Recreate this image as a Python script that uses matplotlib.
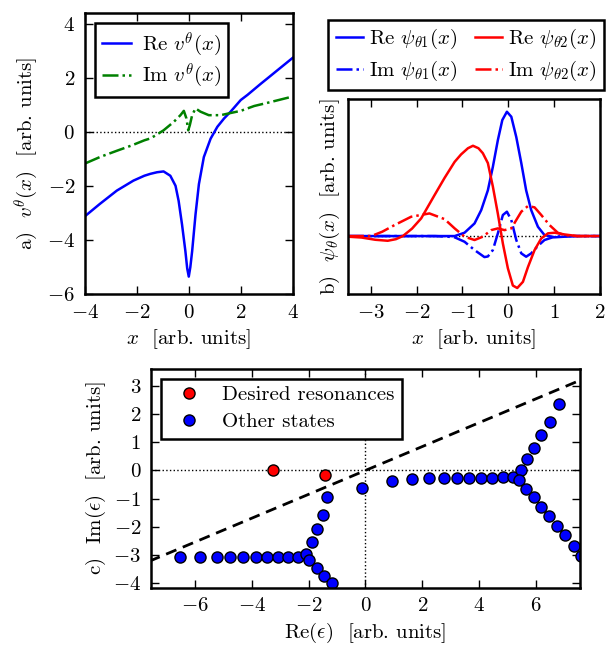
import matplotlib
matplotlib.use('Agg')
import matplotlib.pyplot as plt

plt.rcParams['font.family'] = ['cmr10', 'DejaVu Serif']
plt.rcParams['mathtext.fontset'] = 'cm'
plt.rcParams['axes.formatter.use_mathtext'] = True
plt.rcParams['axes.unicode_minus'] = True
plt.rcParams['font.size'] = 15

# panel a: complex scaled potential
a_re_x = [-4.0, -3.42, -2.77, -2.13, -1.71, -1.48, -1.22, -0.97, -0.71, -0.51, -0.39, -0.26,
          -0.13, -0.06, 0.0, 0.06, 0.13, 0.26, 0.39, 0.58, 0.84, 1.10, 1.36, 1.61, 2.0, 2.26,
          2.77, 3.04, 3.5, 4.0]
a_re_y = [-3.12, -2.66, -2.17, -1.80, -1.62, -1.55, -1.49, -1.46, -1.62, -1.99, -2.55, -3.42,
          -4.41, -5.05, -5.35, -5.0, -4.41, -3.05, -1.93, -0.93, -0.25, 0.19, 0.50, 0.75, 1.18, 1.37,
          1.78, 1.99, 2.35, 2.74]
a_im_x = [-4.0, -3.4, -2.75, -2.2, -1.71, -1.48, -1.3, -0.97, -0.58, -0.32, -0.19, -0.09,
          -0.02, 0.04, 0.13, 0.26, 0.45, 0.77, 1.0, 1.23, 1.61, 2.0, 2.52, 3.0, 3.5, 4.0]
a_im_y = [-1.17, -0.92, -0.69, -0.50, -0.31, -0.24, -0.14, 0.06, 0.37, 0.62, 0.78, 0.50,
          0.06, 0.25, 0.62, 0.87, 0.75, 0.62, 0.62, 0.62, 0.70, 0.78, 0.96, 1.07, 1.19, 1.31]

# panel b: wavefunctions (arb. units)
b1_re_x = [-3.5, -1.6, -1.17, -0.954, -0.736, -0.59, -0.445, -0.336, -0.227, -0.13, -0.03,
           0.066, 0.175, 0.284, 0.39, 0.50, 0.647, 0.79, 1.01, 1.23, 1.5, 2.0]
b1_re_y = [0.0, 0.0, 0.0, 0.027, 0.102, 0.21, 0.37, 0.56, 0.776, 0.938, 1.005,
           0.965, 0.80, 0.59, 0.37, 0.21, 0.075, 0.008, -0.01, -0.005, 0.0, 0.0]
b1_im_x = [-3.5, -1.6, -1.32, -1.17, -0.954, -0.736, -0.52, -0.445, -0.336, -0.227, -0.118,
           -0.03, 0.066, 0.175, 0.284, 0.39, 0.50, 0.647, 0.79, 1.01, 1.3, 2.0]
b1_im_y = [0.0, 0.0, -0.005, -0.01, -0.046, -0.113, -0.17, -0.165, -0.113, 0.022, 0.17,
           0.197, 0.13, -0.032, -0.14, -0.167, -0.14, -0.08, -0.032, -0.005, 0.0, 0.0]
b2_re_x = [-3.5, -3.2, -2.9, -2.63, -2.45, -2.30, -2.1, -1.90, -1.61, -1.39, -1.17, -1.03,
           -0.88, -0.77, -0.65, -0.555, -0.445, -0.336, -0.227, -0.118, -0.009, 0.10, 0.196, 0.32,
           0.43, 0.574, 0.72, 0.865, 1.01, 1.23, 1.5, 2.0]
b2_re_y = [-0.005, -0.012, -0.03, -0.038, -0.025, 0.0, 0.06, 0.143, 0.33, 0.47, 0.60, 0.66,
           0.71, 0.73, 0.71, 0.67, 0.59, 0.40, 0.18, -0.06, -0.26, -0.40, -0.42, -0.37,
           -0.25, -0.113, -0.019, 0.022, 0.027, 0.013, 0.0, 0.0]
b2_im_x = [-3.5, -2.99, -2.75, -2.48, -2.12, -1.72, -1.39, -1.17, -0.954, -0.736, -0.555,
           -0.373, -0.227, -0.082, 0.066, 0.175, 0.284, 0.43, 0.574, 0.72, 0.90, 1.08, 1.23,
           1.5, 2.0]
b2_im_y = [0.0, 0.0, 0.035, 0.089, 0.156, 0.183, 0.137, 0.062, -0.005, -0.032, -0.005,
           0.048, 0.062, 0.048, 0.062, 0.13, 0.197, 0.243, 0.232, 0.17, 0.089, 0.027, 0.008,
           0.0, 0.0]

# panel c: complex eigenvalues
res_re = [-3.24, -1.44]
res_im = [0.0, -0.15]
oth_re = [-6.51, -5.82, -5.24, -4.77, -4.30, -3.86, -3.48, -3.09, -2.71, -2.36, -2.08,
          -1.89, -1.70, -1.51, -1.34, -1.97, -1.71, -1.45, -1.17,
          -0.13, 0.95, 1.64, 2.25, 2.76, 3.23, 3.66, 4.07, 4.46, 4.85, 5.19,
          5.48, 5.67, 5.93, 6.17, 6.48, 6.83,
          5.42, 5.66, 5.92, 6.19, 6.46, 6.74, 7.03, 7.34, 7.57]
oth_im = [-3.07, -3.07, -3.07, -3.07, -3.07, -3.07, -3.07, -3.07, -3.07, -3.07, -2.95,
          -2.54, -2.07, -1.57, -0.93, -3.18, -3.45, -3.72, -4.0,
          -0.62, -0.36, -0.29, -0.27, -0.26, -0.25, -0.25, -0.25, -0.25, -0.24, -0.24,
          0.02, 0.40, 0.79, 1.24, 1.73, 2.35,
          -0.33, -0.65, -0.95, -1.28, -1.61, -1.95, -2.30, -2.66, -3.04]
rot_x = [-7.6, 7.6]
rot_y = [-3.21, 3.21]

fig = plt.figure(figsize=(6.06, 6.48), dpi=100)


def style(ax, yticks=True):
    for s in ax.spines.values():
        s.set_linewidth(1.8)
    ax.tick_params(direction='in', top=True, right=yticks, left=yticks, length=6, width=1, pad=7)


# a)
ax = fig.add_axes([0.140, 0.546, 0.343, 0.434])
ax.axhline(0, color='k', ls=':', lw=1)
ax.plot(a_re_x, a_re_y, color='b', lw=1.8, label=r'Re $v^\theta(x)$')
ax.plot(a_im_x, a_im_y, color=(0, 0.5, 0), ls='-.', lw=1.8, label=r'Im $v^\theta(x)$')
ax.set_xlim(-4, 4)
ax.set_ylim(-6, 4.4)
ax.set_xticks([-4, -2, 0, 2, 4])
ax.set_yticks([-6, -4, -2, 0, 2, 4])
ax.set_xlabel(r'$x$  [arb. units]')
ax.set_ylabel(r'a)  $v^\theta(x)$  [arb. units]')
style(ax)
leg = ax.legend(loc='upper left', bbox_to_anchor=(0.048, 0.964), borderaxespad=0, fancybox=False,
                handlelength=1.4, edgecolor='k', framealpha=1, borderpad=0.35, labelspacing=0.15,
                handletextpad=0.5)
leg.get_frame().set_linewidth(1.8)

# b)
ax = fig.add_axes([0.574, 0.546, 0.416, 0.301])
ax.axhline(0, color='k', ls=':', lw=1)
l1, = ax.plot(b1_re_x, b1_re_y, color='b', lw=1.8, label=r'Re $\psi_{\theta1}(x)$')
l2, = ax.plot(b1_im_x, b1_im_y, color='b', ls='-.', lw=1.8, label=r'Im $\psi_{\theta1}(x)$')
l3, = ax.plot(b2_re_x, b2_re_y, color='r', lw=1.8, label=r'Re $\psi_{\theta2}(x)$')
l4, = ax.plot(b2_im_x, b2_im_y, color='r', ls='-.', lw=1.8, label=r'Im $\psi_{\theta2}(x)$')
ax.set_xlim(-3.5, 2)
ax.set_ylim(-0.47, 1.107)
ax.set_xticks([-3, -2, -1, 0, 1, 2])
ax.set_yticks([])
ax.set_xlabel(r'$x$  [arb. units]')
ax.set_ylabel(r'b)  $\psi_\theta(x)$  [arb. units]')
style(ax, yticks=False)
leg = ax.legend(handles=[l1, l2, l3, l4], ncol=2, loc='lower right', bbox_to_anchor=(1.016, 1.046),
                borderaxespad=0, fancybox=False, handlelength=1.3, edgecolor='k', framealpha=1,
                columnspacing=0.8, handletextpad=0.3, borderpad=0.35, labelspacing=0.35)
leg.get_frame().set_linewidth(1.8)

# c)
ax = fig.add_axes([0.249, 0.093, 0.708, 0.338])
ax.axhline(0, color='k', ls=':', lw=1)
ax.axvline(0, color='k', ls=':', lw=1)
ax.plot(rot_x, rot_y, color='k', ls='--', lw=2, dashes=(4, 2.5))
ax.plot(res_re, res_im, 'o', color='r', mec='k', ms=8, label='Desired resonances')
ax.plot(oth_re, oth_im, 'o', color='b', mec='k', ms=8, label='Other states')
ax.set_xlim(-7.55, 7.55)
ax.set_ylim(-4.15, 3.6)
ax.set_xticks([-6, -4, -2, 0, 2, 4, 6])
ax.set_yticks([-4, -3, -2, -1, 0, 1, 2, 3])
ax.set_xlabel(r'Re$(\epsilon)$  [arb. units]')
ax.set_ylabel(r'c)  Im$(\epsilon)$  [arb. units]')
style(ax)
leg = ax.legend(loc='upper left', bbox_to_anchor=(0.023, 0.955), borderaxespad=0, numpoints=1,
                fancybox=False, edgecolor='k', framealpha=1, handletextpad=0.6, borderpad=0.35,
                labelspacing=0.4)
leg.get_frame().set_linewidth(1.8)

plt.savefig('out.png', dpi=100)
